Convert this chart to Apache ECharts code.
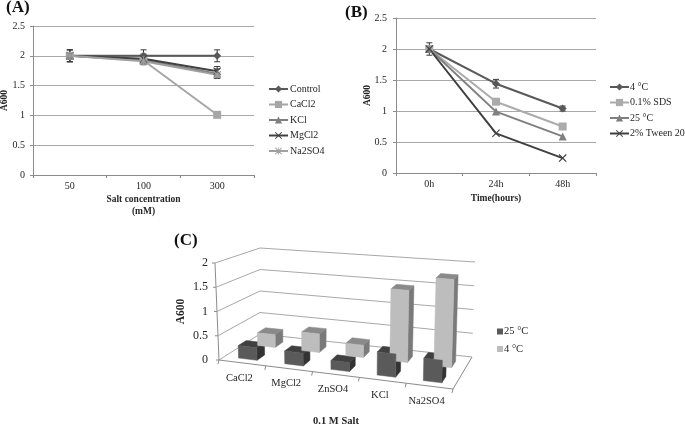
<!DOCTYPE html>
<html><head><meta charset="utf-8">
<style>html,body{margin:0;padding:0;background:#fff}#c{width:685px;height:425px}</style>
<script src="https://cdn.jsdelivr.net/npm/echarts@6/dist/echarts.min.js"></script>
</head><body><div id="c"></div>
<script>
// ---------- data ----------
const saltConc = ['50','100','300'];
const control = [2,2,2];
const cacl2 = [2,1.92,1.01];
const kcl = [2,1.93,1.70];
const mgcl2 = [2,1.95,1.74];
const na2so4 = [2,1.91,1.68];
const errControl = [0.1,0.1,0.1];
const errKcl = [0.1,0.08,0.08];
const errMgcl2 = [0.1,0.08,0.08];

const times = ['0h','24h','48h'];
const t4 = [2,1.44,1.04];
const sds = [2,1.15,0.75];
const t25 = [2,0.99,0.59];
const tween = [2,0.64,0.24];
const errT4 = [0.1,0.07,0.04];

const salts = ['CaCl2','MgCl2','ZnSO4','KCl','Na2SO4'];
const bars25 = [0.26,0.26,0.18,0.46,0.44];
const bars4 = [0.28,0.40,0.26,1.50,1.80];
const ticks3d = [0,0.5,1,1.5,2];

// ---------- style ----------
const FONT = '"Liberation Serif"';
const TXT = '#262626';
const X_PATH = 'path://M1 0L5 4L9 0L10 1L6 5L10 9L9 10L5 6L1 10L0 9L4 5L0 1Z';
const STAR_PATH = 'path://M1 0L5 4L9 0L10 1L6 5L10 9L9 10L5 6L1 10L0 9L4 5L0 1ZM4.5 0H5.5V10H4.5ZM0 4.5H10V5.5H0Z';
const gridLine = {show:true,lineStyle:{color:'#a8a8a8',width:1}};
const axisLine = {show:true,lineStyle:{color:'#8c8c8c',width:1}};

function lineSeries(name,data,idx,color,symbol,size,z){
  return {name,type:'line',data,xAxisIndex:idx,yAxisIndex:idx,symbol,symbolSize:size,
    lineStyle:{color,width:2},itemStyle:{color},z:z||3,animation:false};
}
function errSeries(rows,idx){
  const data=[];
  rows.forEach(([vals,errs])=>vals.forEach((v,i)=>{ if(errs[i]) data.push([i,v-errs[i],v+errs[i]]); }));
  return {type:'custom',xAxisIndex:idx,yAxisIndex:idx,data,z:2,silent:true,animation:false,
    encode:{x:0,y:[1,2]},
    renderItem(p,api){
      const a=api.coord([api.value(0),api.value(1)]),b=api.coord([api.value(0),api.value(2)]);
      const s={stroke:'#3a3a3a',lineWidth:1,fill:null};
      return {type:'group',children:[
        {type:'line',shape:{x1:a[0],y1:a[1],x2:b[0],y2:b[1]},style:s},
        {type:'line',shape:{x1:a[0]-3,y1:a[1],x2:a[0]+3,y2:a[1]},style:s},
        {type:'line',shape:{x1:b[0]-3,y1:b[1],x2:b[0]+3,y2:b[1]},style:s}]};
    }};
}

// 3-D panel: the hidden grid's scales give (u,t); the box corners give the view.
const G3 = {left:219,top:263,width:234,height:97,outerBoundsMode:'none'};
const BOX = {fl0:[219,360],fr0:[453,389],bl0:[260,334],br0:[472,357],
             fl1:[215,263],fr1:[456,285],bl1:[260,248],br1:[475,262]};
function mix(a,b,k){return [a[0]+(b[0]-a[0])*k,a[1]+(b[1]-a[1])*k];}
function project(u,d,t){
  const f=mix(mix(BOX.fl0,BOX.fr0,u),mix(BOX.fl1,BOX.fr1,u),t);
  const b=mix(mix(BOX.bl0,BOX.br0,u),mix(BOX.bl1,BOX.br1,u),t);
  return mix(f,b,d);
}
function ut(api,c,v){
  const p=api.coord([c,v]);
  return [(p[0]-G3.left)/G3.width,(G3.top+G3.height-p[1])/G3.height];
}
const poly=(pts,fill,z2)=>({type:'polygon',z2,shape:{points:pts},style:{fill,stroke:fill,lineWidth:0.5}});
function barSeries(name,data,d0,d1,front,top,side){
  return {name,type:'custom',xAxisIndex:2,yAxisIndex:2,data:data.map((v,i)=>[i,v]),z:3,animation:false,
    encode:{x:0,y:1},itemStyle:{color:front},
    renderItem(p,api){
      const [u,t]=ut(api,api.value(0),api.value(1));
      const hw=0.04,a=u-hw,b=u+hw;
      return {type:'group',children:[
        poly([project(b,d0,0),project(b,d1,0),project(b,d1,t),project(b,d0,t)],side,1),
        poly([project(a,d0,t),project(b,d0,t),project(b,d1,t),project(a,d1,t)],top,2),
        poly([project(a,d0,0),project(b,d0,0),project(b,d0,t),project(a,d0,t)],front,3)]};
    }};
}
const frameSeries={type:'custom',xAxisIndex:2,yAxisIndex:2,silent:true,z:1,animation:false,
  data:ticks3d.map(v=>[0,v]),encode:{x:0,y:1},
  renderItem(p,api){
    const [,t]=ut(api,0,api.value(1));
    const s={stroke:'#a8a8a8',lineWidth:1,fill:null};
    const kids=[{type:'polyline',shape:{points:[project(0,0,t),project(0,1,t),project(1,1,t)]},style:s}];
    if(api.value(1)===0) kids.push(
      {type:'polyline',shape:{points:[project(0,0,0),project(1,0,0),project(1,1,0)]},style:{stroke:'#8c8c8c',lineWidth:1,fill:null}},
      {type:'line',shape:{x1:BOX.fl0[0],y1:BOX.fl0[1],x2:BOX.fl1[0],y2:BOX.fl1[1]},style:{stroke:'#8c8c8c',lineWidth:1}});
    const e=project(0,0,t);
    kids.push({type:'line',shape:{x1:e[0]-3,y1:e[1],x2:e[0],y2:e[1]},style:{stroke:'#8c8c8c',lineWidth:1}});
    return {type:'group',children:kids};
  }};
const labelSeries={type:'custom',xAxisIndex:2,yAxisIndex:2,silent:true,z:4,animation:false,
  data:salts.map((s,i)=>[i,0]),encode:{x:0,y:1},
  renderItem(p,api){
    const i=api.value(0);const [u]=ut(api,i,0);const h=0.1;
    const q=project(u,0,0),l=project(u-h,0,0),r=project(u+h,0,0);
    const tick=(c)=>({type:'line',shape:{x1:c[0],y1:c[1],x2:c[0]-1,y2:c[1]+4},style:{stroke:'#8c8c8c',lineWidth:1}});
    const kids=[tick(l),{type:'text',style:{text:salts[i],x:q[0]-3,y:q[1]+15,align:'center',verticalAlign:'middle',
      font:'10.5px '+FONT,fill:TXT}}];
    if(i===salts.length-1) kids.push(tick(r));
    return {type:'group',children:kids};
  }};

const boldName=(size)=>({fontFamily:FONT,fontSize:size,fontWeight:'bold',color:TXT});
const letter={fontFamily:FONT,fontSize:17,fontWeight:'bold',color:'#111'};
const option={
  animation:false,backgroundColor:'#fff',
  textStyle:{fontFamily:FONT,color:TXT},
  title:[
    {text:'(A)',left:6,top:-1,padding:0,textStyle:letter},
    {text:'(B)',left:345,top:4,padding:0,textStyle:letter},
    {text:'(C)',left:174,top:232,padding:0,textStyle:letter}
  ],
  grid:[
    {left:33,top:26,width:221,height:149,outerBoundsMode:'none'},
    {left:396,top:18,width:200,height:155,outerBoundsMode:'none'},
    G3
  ],
  xAxis:[
    {gridIndex:0,type:'category',data:saltConc,axisLine,axisTick:{show:true,length:3,lineStyle:{color:'#8c8c8c'}},
     axisLabel:{fontFamily:FONT,fontSize:10,color:TXT,margin:6},
     name:'Salt concentration\n(mM)',nameLocation:'middle',nameGap:19,nameTextStyle:{...boldName(9.5),lineHeight:12,verticalAlign:'top'}},
    {gridIndex:1,type:'category',data:times,axisLine,axisTick:{show:true,length:3,lineStyle:{color:'#8c8c8c'}},
     axisLabel:{fontFamily:FONT,fontSize:10,color:TXT,margin:6},
     name:'Time(hours)',nameLocation:'middle',nameGap:21,nameTextStyle:boldName(9.5)},
    {gridIndex:2,type:'category',data:salts,axisLine:{show:false},axisTick:{show:false},axisLabel:{show:false},splitLine:{show:false},
     name:'0.1 M Salt',nameLocation:'middle',nameGap:56,nameTextStyle:boldName(10.5)}
  ],
  yAxis:[
    {gridIndex:0,type:'value',min:0,max:2.5,interval:0.5,axisLine,axisTick:{show:true,length:3,lineStyle:{color:'#8c8c8c'}},splitLine:gridLine,
     axisLabel:{fontFamily:FONT,fontSize:10,color:TXT,margin:8},
     name:'A600',nameLocation:'middle',nameMoveOverlap:false,nameGap:23,nameTextStyle:boldName(9.5)},
    {gridIndex:1,type:'value',min:0,max:2.5,interval:0.5,axisLine,axisTick:{show:true,length:3,lineStyle:{color:'#8c8c8c'}},splitLine:gridLine,
     axisLabel:{fontFamily:FONT,fontSize:10,color:TXT,margin:9},
     name:'A600',nameLocation:'middle',nameMoveOverlap:false,nameGap:23,nameTextStyle:boldName(9.5)},
    {gridIndex:2,type:'value',min:0,max:2,interval:0.5,axisLine:{show:false},axisTick:{show:false},splitLine:{show:false},
     axisLabel:{fontFamily:FONT,fontSize:12,color:TXT,margin:11},
     name:'A600',nameLocation:'middle',nameMoveOverlap:false,nameGap:32,nameTextStyle:boldName(11.5)}
  ],
  legend:[
    {left:268,top:84,orient:'vertical',itemWidth:19,itemHeight:9,itemGap:5.5,padding:0,selectedMode:false,
     textStyle:{fontFamily:FONT,fontSize:10,color:TXT,padding:[0,0,0,-3]},data:['Control','CaCl2','KCl','MgCl2','Na2SO4']},
    {left:609,top:82,orient:'vertical',itemWidth:19,itemHeight:9,itemGap:5.5,padding:0,selectedMode:false,
     textStyle:{fontFamily:FONT,fontSize:10,color:TXT,padding:[0,0,0,-4]},data:['4 °C','0.1% SDS','25 °C','2% Tween 20']},
    {left:497,top:326,orient:'vertical',itemWidth:6,itemHeight:6,itemGap:6.5,padding:0,selectedMode:false,icon:'rect',
     textStyle:{fontFamily:FONT,fontSize:10.5,color:TXT,padding:[0,0,0,-4]},data:['25 °C ','4 °C ']}
  ],
  series:[
    errSeries([[control,errControl],[kcl,errKcl],[mgcl2,errMgcl2]],0),
    lineSeries('Control',control,0,'#595959','diamond',8),
    lineSeries('CaCl2',cacl2,0,'#a6a6a6','rect',8),
    lineSeries('KCl',kcl,0,'#7f7f7f','triangle',8),
    lineSeries('MgCl2',mgcl2,0,'#404040',X_PATH,8),
    lineSeries('Na2SO4',na2so4,0,'#a0a0a0',STAR_PATH,8),
    errSeries([[t4,errT4]],1),
    lineSeries('4 °C',t4,1,'#595959','diamond',8),
    lineSeries('0.1% SDS',sds,1,'#ababab','rect',8),
    lineSeries('25 °C',t25,1,'#7f7f7f','triangle',8),
    lineSeries('2% Tween 20',tween,1,'#404040',X_PATH,8),
    frameSeries,
    barSeries('4 °C ',bars4,0.62,0.82,'#bdbdbd','#8a8a8a','#7a7a7a'),
    barSeries('25 °C ',bars25,0.14,0.34,'#5a5a5a','#404040','#333333'),
    labelSeries
  ]
};
echarts.init(document.getElementById('c'),null,{renderer:'canvas'}).setOption(option);
</script></body></html>
